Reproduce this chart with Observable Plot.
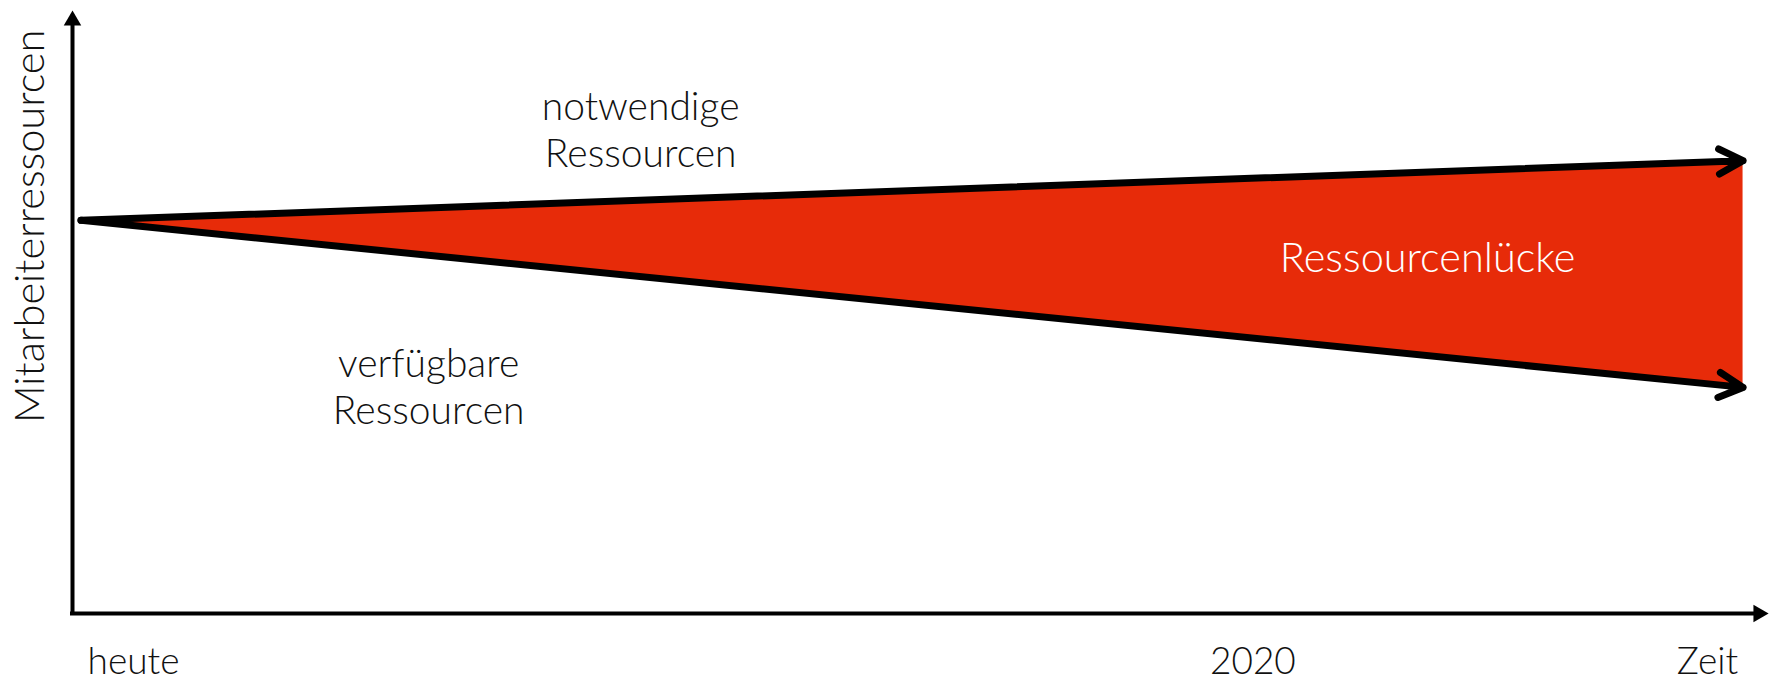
<!DOCTYPE html>
<html>
<head>
<meta charset="utf-8">
<script src="https://cdn.jsdelivr.net/npm/d3@7"></script>
<script src="https://cdn.jsdelivr.net/npm/@observablehq/plot@0.6"></script>
<style>
  html, body { margin: 0; padding: 0; background: #fff; }
</style>
</head>
<body>
<div id="chart"></div>
<script>
// Time points (schematic units, 0 = origin of axes, 100 = end of time axis)
const time = [0.5, 98.5];
// Resource levels (schematic units, 0 = time axis, 100 = top of resource axis)
const needed = [65.2, 75.1];     // notwendige Ressourcen
const available = [65.2, 37.5];  // verfügbare Ressourcen

// Time axis tick labels
const timeTicks = [3.6, 69.6, 96.4];
const timeLabels = ["heute", "2020", "Zeit"];

// Annotation texts
const annotations = ["notwendige\nRessourcen", "verfügbare\nRessourcen", "Ressourcenlücke"];
const annotationT = [33.5, 21.0, 79.9];
const annotationR = [80.4, 37.8, 58.9];
const yLabel = "Mitarbeiterressourcen";

const gap = time.map((t, i) => ({t, need: needed[i], avail: available[i]}));
const series = [
  {x1: time[0], y1: needed[0], x2: time[1], y2: needed[1]},
  {x1: time[0], y1: available[0], x2: time[1], y2: available[1]}
];
const notes = annotations.map((text, i) => ({text, t: annotationT[i], r: annotationR[i]}));

const RED = "#e72b09";
const INK = "#111";

const chart = Plot.plot({
  width: 1773,
  height: 682,
  marginLeft: 72,
  marginRight: 5,
  marginTop: 10,
  marginBottom: 69,
  x: {domain: [0, 100], axis: null},
  y: {domain: [0, 100], axis: null},
  style: {fontFamily: "Lato, 'Open Sans', sans-serif", fontWeight: 300, color: INK, background: "#fff"},
  marks: [
    // gap area
    Plot.areaY(gap, {x: "t", y1: "avail", y2: "need", fill: RED}),
    // series arrows
    Plot.arrow(series, {
      x1: "x1", y1: "y1", x2: "x2", y2: "y2",
      stroke: "black", strokeWidth: 7, headLength: 5.8, headAngle: 55,
      strokeLinecap: "round", strokeLinejoin: "round"
    }),
    // axes
    Plot.ruleY([0], {x1: 0, x2: 99.2, stroke: "black", strokeWidth: 4, strokeLinecap: "square"}),
    Plot.ruleX([0], {y1: 0, y2: 98.0, stroke: "black", strokeWidth: 4, strokeLinecap: "square"}),
    Plot.dot([{x: 100, y: 0}], {x: "x", y: "y", symbol: "triangle", r: 6.5, rotate: 90, dx: -10, fill: "black", stroke: null}),
    Plot.dot([{x: 0, y: 100}], {x: "x", y: "y", symbol: "triangle", r: 6.5, dy: 10, fill: "black", stroke: null}),
    // time axis labels
    Plot.axisX({
      ticks: timeTicks,
      tickFormat: d => timeLabels[timeTicks.indexOf(d)],
      tickSize: 0, tickPadding: 34, fontSize: 37, label: null,
      fill: INK
    }),
    // annotations
    Plot.text(notes.slice(0, 2), {x: "t", y: "r", text: "text", fontSize: 39, lineHeight: 1.2, fill: INK}),
    Plot.text(notes.slice(2), {x: "t", y: "r", text: "text", fontSize: 41.5, fill: "white"}),
    // y label
    Plot.text([yLabel], {x: 0, y: 64.2, dx: -42, text: d => d, rotate: -90, fontSize: 41.5, fill: INK})
  ]
});
document.getElementById("chart").appendChild(chart);
</script>
</body>
</html>
